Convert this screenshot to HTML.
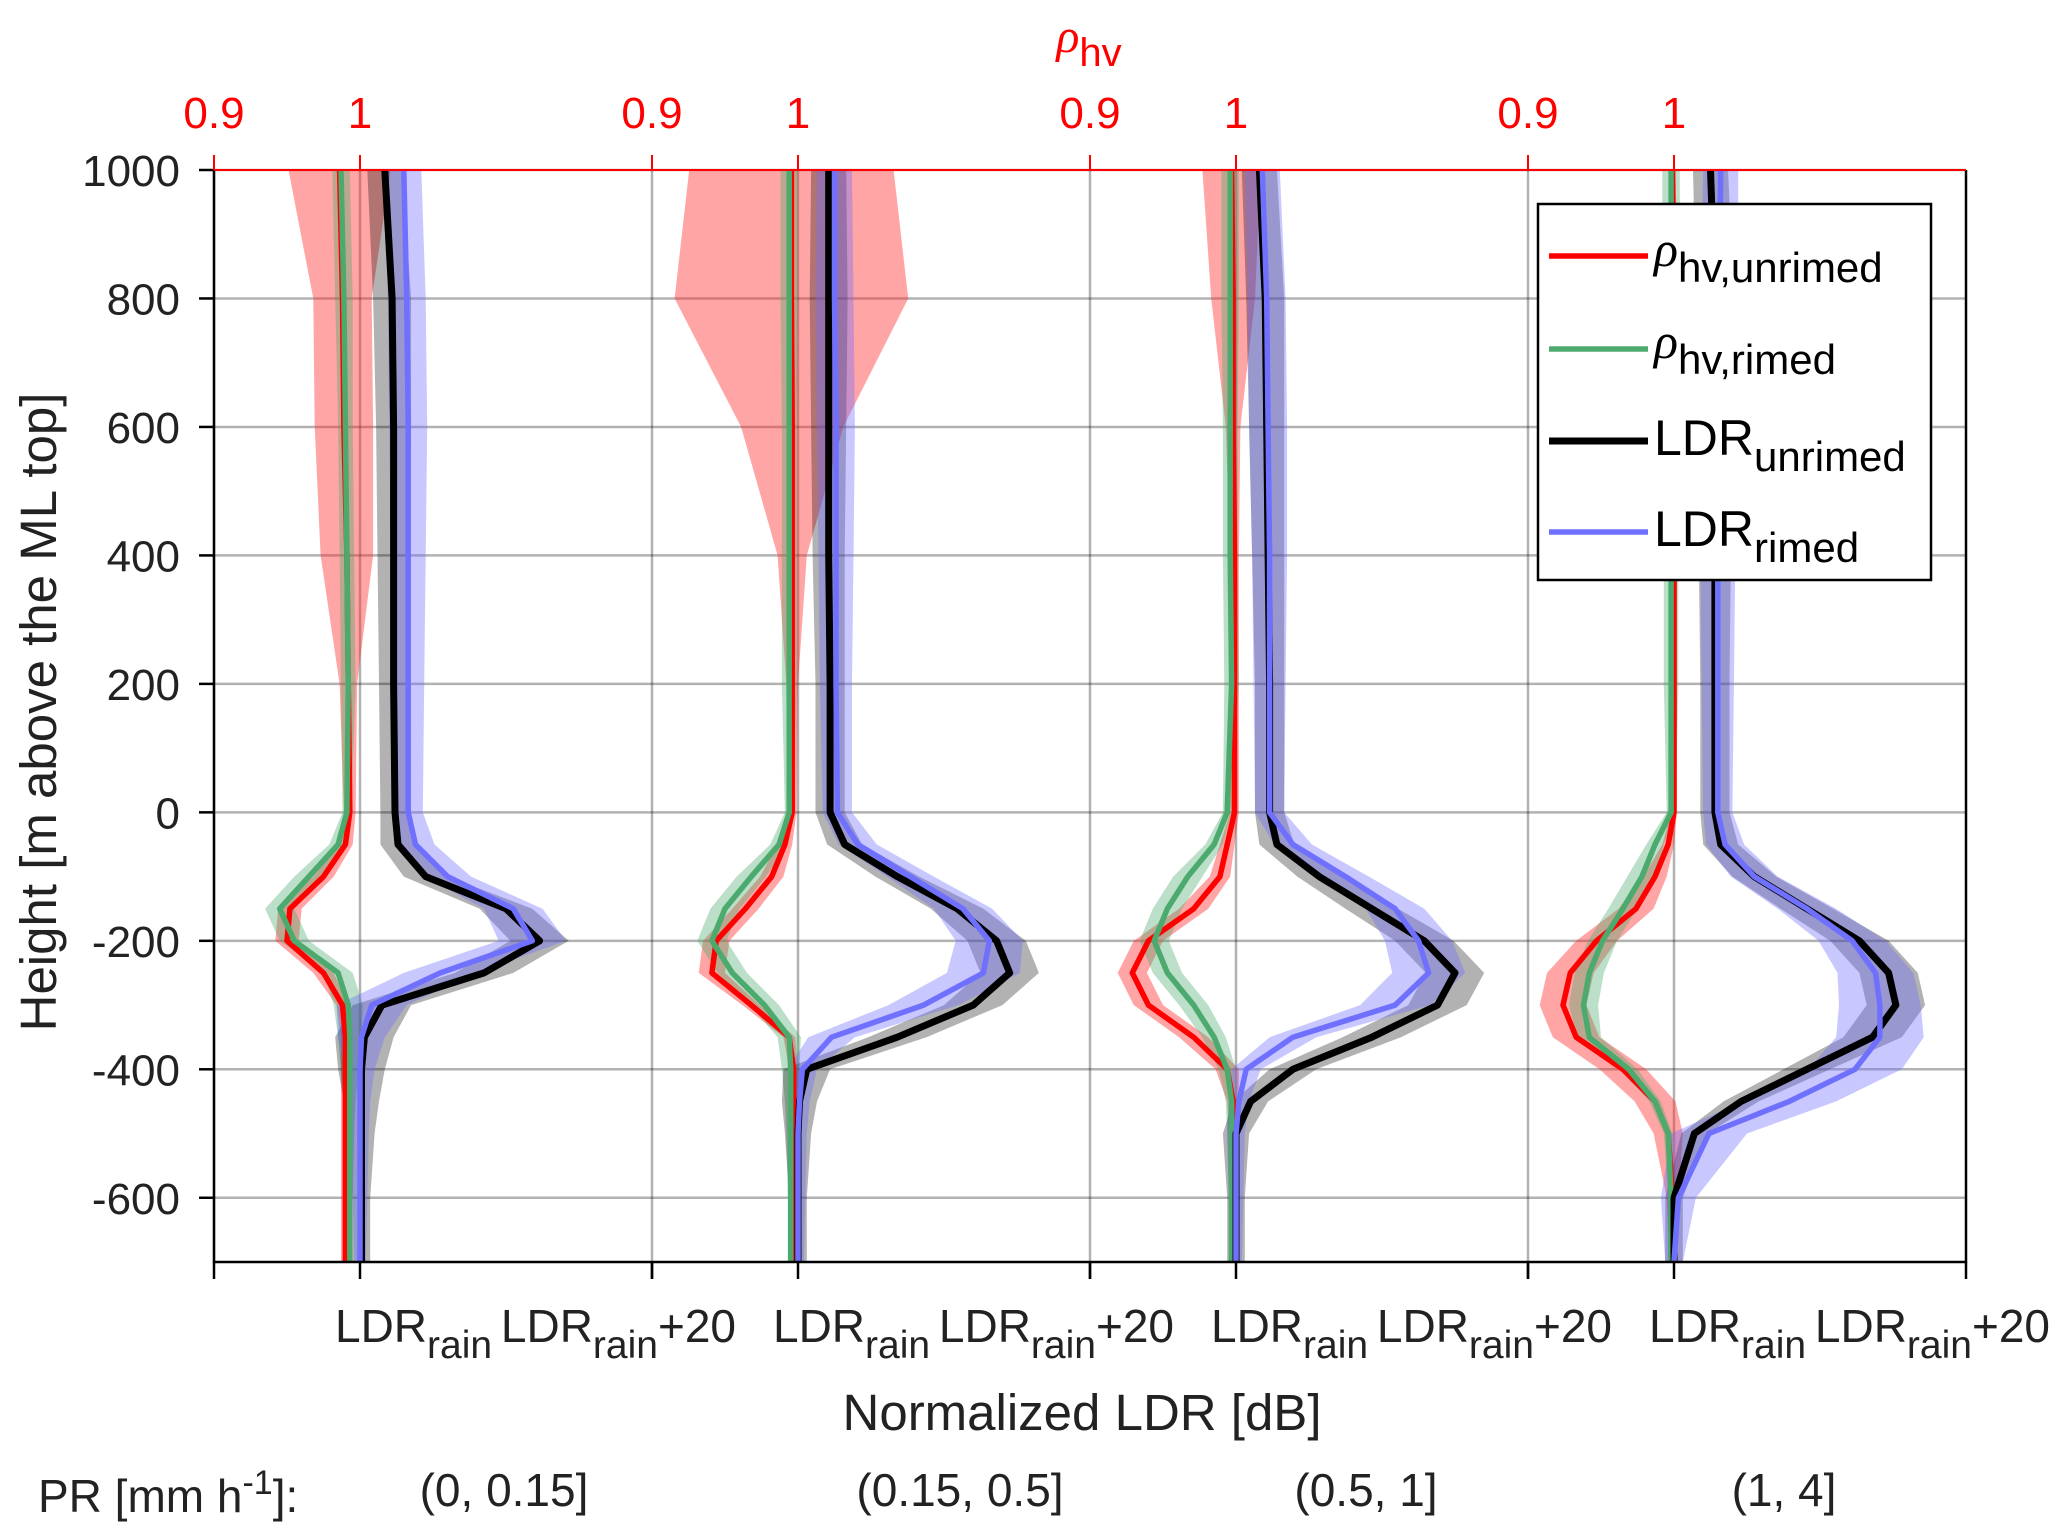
<!DOCTYPE html>
<html><head><meta charset="utf-8"><style>
body{margin:0;background:#fff}
svg{display:block;font-family:"Liberation Sans",Arial,sans-serif}
</style></head><body>
<svg id="chart" width="2067" height="1538" viewBox="0 0 2067 1538" xmlns="http://www.w3.org/2000/svg">
<g id="grid"></g>
<g id="series"></g>
<g id="axes"></g>
<g id="legend">
<rect x="1538" y="204" width="393" height="376" fill="#fff" stroke="#000" stroke-width="2.5"/>
<g><line x1="1549" y1="256" x2="1648" y2="256" stroke="#ff0000" stroke-width="5.5"/><text x="1654" y="266" font-size="50"><tspan font-family="Liberation Serif" font-style="italic">ρ</tspan><tspan dy="16" font-size="42">hv,unrimed</tspan></text></g>
<g><line x1="1549" y1="349" x2="1648" y2="349" stroke="#4caa6e" stroke-width="5.5"/><text x="1654" y="358" font-size="50"><tspan font-family="Liberation Serif" font-style="italic">ρ</tspan><tspan dy="16" font-size="42">hv,rimed</tspan></text></g>
<g><line x1="1549" y1="441" x2="1648" y2="441" stroke="#000" stroke-width="7"/><text x="1654" y="455" font-size="50">LDR<tspan dy="16" font-size="42">unrimed</tspan></text></g>
<g><line x1="1549" y1="532" x2="1648" y2="532" stroke="#7070ff" stroke-width="5.5"/><text x="1654" y="546" font-size="50">LDR<tspan dy="16" font-size="42">rimed</tspan></text></g>
</g>
</svg>
<script>
const heights=[1000,800,600,400,200,0,-50,-100,-150,-200,-250,-300,-350,-400,-450,-500,-600,-700];
const yTicks=[1000,800,600,400,200,0,-200,-400,-600];
const prLabels=["(0, 0.15]","(0.15, 0.5]","(0.5, 1]","(1, 4]"];
// panel 1
const p1LdrU=[1.7,2.2,2.3,2.3,2.3,2.4,2.6,4.5,10,12.3,8.5,1.5,0.3,0.1,0.1,0.1,0.1,0.1];
const p1LdrR=[3,3.2,3.3,3.3,3.3,3.3,3.8,6,10.5,11.8,5.5,0.8,0.1,0,0,0,0,0];
const p1RhoU=[0.986,0.988,0.989,0.991,0.992,0.993,0.990,0.975,0.952,0.950,0.975,0.988,0.990,0.990,0.990,0.990,0.990,0.990];
const p1RhoR=[0.987,0.989,0.990,0.991,0.992,0.991,0.985,0.965,0.945,0.955,0.985,0.992,0.993,0.993,0.993,0.993,0.993,0.993];
const p1RedSpread=[0.035,0.02,0.02,0.018,0.006,0.004,0.005,0.007,0.008,0.008,0.007,0.004,0.003,0.003,0.003,0.003,0.003,0.003];
// panel 2
const p2LdrU=[2.1,2.1,2.1,2.1,2.2,2.2,3.2,6.8,10.9,13.6,14.5,12,6.8,0.6,0.1,0,0,0];
const p2LdrR=[2.5,2.5,2.6,2.6,2.6,2.7,4.1,7.7,11.3,13.1,12.7,8.6,2.3,0.3,0.1,0,0,0];
const p2RhoU=[0.9955,0.9955,0.996,0.996,0.996,0.996,0.991,0.982,0.964,0.944,0.941,0.968,0.994,0.997,0.997,0.997,0.997,0.997];
const p2RhoR=[0.994,0.994,0.994,0.994,0.994,0.994,0.987,0.968,0.950,0.941,0.955,0.977,0.994,0.995,0.995,0.995,0.995,0.995];
const p2RedSpread=[0.07,0.08,0.035,0.01,0.004,0.003,0.005,0.008,0.009,0.009,0.009,0.006,0.004,0.003,0.003,0.003,0.003,0.003];
// panel 3
const p3LdrU=[1.6,2.0,2.1,2.2,2.3,2.3,2.8,5.7,9.3,12.9,15,13.8,9.3,3.9,1,0,0,0];
const p3LdrR=[1.8,2.1,2.2,2.3,2.3,2.3,3.9,7.5,10.9,12.5,13.2,10.9,3.9,0.7,0.2,0,0,0];
const p3RhoU=[0.997,0.998,0.998,0.999,0.999,0.999,0.994,0.989,0.971,0.940,0.929,0.940,0.971,0.994,0.998,0.998,0.998,0.998];
const p3RhoR=[0.996,0.996,0.996,0.996,0.997,0.994,0.985,0.967,0.953,0.944,0.953,0.971,0.985,0.994,0.997,0.997,0.997,0.997];
const p3RedSpread=[0.02,0.015,0.005,0.003,0.003,0.003,0.005,0.007,0.01,0.01,0.01,0.01,0.01,0.008,0.004,0.003,0.002,0.002];
// panel 4
const p4LdrU=[2.5,2.8,2.8,2.8,2.8,2.8,3.2,5.5,9.1,12.7,14.7,15.2,13.6,9.1,4.6,1.4,0,0];
const p4LdrR=[3.2,3.1,3.0,3.0,3.0,3.0,3.5,5.5,9.1,12.2,13.8,14.1,14.1,12.4,7.9,2.4,0.3,0];
const p4RhoU=[0.999,1.0,1.0,1.0,1.0,1.0,0.996,0.987,0.974,0.947,0.929,0.924,0.933,0.965,0.987,0.996,0.999,0.999];
const p4RhoR=[0.998,0.998,0.998,0.998,0.998,0.998,0.987,0.978,0.965,0.951,0.942,0.938,0.942,0.969,0.987,0.996,0.998,0.998];
const p4RedSpread=[0.002,0.002,0.002,0.002,0.002,0.002,0.004,0.008,0.012,0.014,0.016,0.016,0.016,0.016,0.014,0.01,0.004,0.002];
// spreads
const greenSpread=[0.006,0.006,0.005,0.005,0.005,0.003,0.006,0.01,0.01,0.01,0.01,0.01,0.008,0.006,0.004,0.003,0.002,0.002];
const blackSpread=[1.2,1.3,1.2,1.1,1,1,1.2,1.5,1.8,2,2,2,2,1.6,1.2,0.9,0.6,0.6];
const blueSpread=[1.2,1.3,1.3,1.2,1.1,1,1.3,1.6,2,2.3,2.5,2.4,1.6,1,0.7,0.6,0.5,0.4];
const p4BlueSpread=[1.2,1.3,1.3,1.2,1.1,1,1.3,1.6,2,2.3,2.6,2.8,3,3.2,3.2,2.6,1.2,0.6];

const panels=[
 {ldrU:p1LdrU,ldrR:p1LdrR,rhoU:p1RhoU,rhoR:p1RhoR,red:p1RedSpread,blue:blueSpread},
 {ldrU:p2LdrU,ldrR:p2LdrR,rhoU:p2RhoU,rhoR:p2RhoR,red:p2RedSpread,blue:blueSpread},
 {ldrU:p3LdrU,ldrR:p3LdrR,rhoU:p3RhoU,rhoR:p3RhoR,red:p3RedSpread,blue:blueSpread},
 {ldrU:p4LdrU,ldrR:p4LdrR,rhoU:p4RhoU,rhoR:p4RhoR,red:p4RedSpread,blue:p4BlueSpread}];

const L=214,R=1966,T=170,B=1262,PW=(R-L)/4;
const NS="http://www.w3.org/2000/svg";
function y(h){return T+(1000-h)/1700*(B-T);}
function xRho(i,r){return L+i*PW+(r-0.9)/0.3*PW;}
function xLdr(i,l){return L+i*PW+(l+10)/30*PW;}
function mk(tag,attrs,parent,txt){const e=document.createElementNS(NS,tag);for(const k in attrs)e.setAttribute(k,attrs[k]);if(txt!==undefined)e.textContent=txt;parent.appendChild(e);return e;}
const grid=document.getElementById('grid'),series=document.getElementById('series'),axes=document.getElementById('axes');

yTicks.forEach(h=>{
 const g=mk('line',{x1:L,x2:R,y1:y(h),y2:y(h),stroke:'rgba(0,0,0,0.3)','stroke-width':2.5},grid);
 
 
});
for(let i=0;i<4;i++){
 [xRho(i,0.9),xRho(i,1)].forEach(x=>{
  const g=mk('line',{x1:x,x2:x,y1:T,y2:B,stroke:'rgba(0,0,0,0.3)','stroke-width':2.5},grid);
  
  
 });
}
function band(vals,sp,xf,i,fill,name){
 let pts=[];
 heights.forEach((h,k)=>pts.push(xf(i,vals[k]-sp[k]).toFixed(1)+','+y(h).toFixed(1)));
 for(let k=heights.length-1;k>=0;k--)pts.push(xf(i,vals[k]+sp[k]).toFixed(1)+','+y(heights[k]).toFixed(1));
 const p=mk('polygon',{points:pts.join(' '),fill:fill},series);
 
 
}
function line(vals,xf,i,col,w,name){
 const pts=heights.map((h,k)=>xf(i,vals[k]).toFixed(1)+','+y(h).toFixed(1)).join(' ');
 const p=mk('polyline',{points:pts,fill:'none',stroke:col,'stroke-width':w,'stroke-linejoin':'round'},series);
 
 
}
panels.forEach((p,i)=>{
 band(p.rhoU,p.red,xRho,i,'rgba(255,40,40,0.42)','rho-unrimed-band-'+(i+1));
 band(p.rhoR,greenSpread,xRho,i,'rgba(77,170,110,0.38)','rho-rimed-band-'+(i+1));
 band(p.ldrU,blackSpread,xLdr,i,'rgba(0,0,0,0.3)','ldr-unrimed-band-'+(i+1));
 band(p.ldrR,p.blue,xLdr,i,'rgba(110,110,255,0.38)','ldr-rimed-band-'+(i+1));
 line(p.rhoU,xRho,i,'#ff0000',5.5,'rho-unrimed-line-'+(i+1));
 line(p.rhoR,xRho,i,'#4caa6e',5.5,'rho-rimed-line-'+(i+1));
 line(p.ldrU,xLdr,i,'#000',7,'ldr-unrimed-line-'+(i+1));
 line(p.ldrR,xLdr,i,'#7070ff',5.5,'ldr-rimed-line-'+(i+1));
});
mk('path',{d:`M${L},${T}V${B}H${R}V${T}`,fill:'none',stroke:'#000','stroke-width':2.5},axes);
mk('line',{x1:L,x2:R,y1:T,y2:T,stroke:'#ff0000','stroke-width':2},axes);
yTicks.forEach(h=>{
 mk('line',{x1:L-15,x2:L,y1:y(h),y2:y(h),stroke:'#000','stroke-width':2.5},axes);
 const t=mk('text',{x:180,y:y(h)+16,'text-anchor':'end','font-size':44,fill:'#222'},axes,String(h));
 
 
});
for(let i=0;i<4;i++){
 [[0.9,'0.9'],[1,'1']].forEach(([v,s])=>{
  const x=xRho(i,v);
  mk('line',{x1:x,x2:x,y1:T-15,y2:T,stroke:'#ff0000','stroke-width':2},axes);
  const t=mk('text',{x:x,y:128,'text-anchor':'middle','font-size':44,fill:'#ff0000'},axes,s);
  
  
 });
 [xLdr(i,-10),xLdr(i,0),xLdr(i,20)].forEach(x=>mk('line',{x1:x,x2:x,y1:B,y2:B+17,stroke:'#000','stroke-width':2.5},axes));
 const a=mk('text',{x:xLdr(i,0)-25,y:1342,'text-anchor':'start','font-size':46,fill:'#222'},axes);
 a.innerHTML='LDR<tspan dy="16" font-size="39">rain</tspan>';
 
 
 const b=mk('text',{x:xLdr(i,20)+84,y:1342,'text-anchor':'end','font-size':46,fill:'#222'},axes);
 b.innerHTML='LDR<tspan dy="16" font-size="39">rain</tspan><tspan dy="-16">+20</tspan>';
 
 
 const c=mk('text',{x:[504,960,1366,1784][i],y:1506,'text-anchor':'middle','font-size':46,fill:'#222'},axes,prLabels[i]);
 
 
}
const t1=mk('text',{x:1089,y:52,'text-anchor':'middle','font-size':48,fill:'#ff0000'},axes);
t1.innerHTML='<tspan font-family="Liberation Serif" font-style="italic">ρ</tspan><tspan dy="14" font-size="40">hv</tspan>';


const t2=mk('text',{x:1082,y:1430,'text-anchor':'middle','font-size':51,fill:'#222'},axes,'Normalized LDR [dB]');


const t3=mk('text',{x:0,y:0,'text-anchor':'middle','font-size':51,fill:'#222',transform:'translate(56,712) rotate(-90)'},axes,'Height [m above the ML top]');


const t4=mk('text',{x:38,y:1512,'font-size':46,fill:'#222'},axes);
t4.innerHTML='PR [mm h<tspan dy="-18" font-size="34">-1</tspan><tspan dy="18">]:</tspan>';


document.getElementById('chart').appendChild(document.getElementById('legend'));
</script>
</body></html>
